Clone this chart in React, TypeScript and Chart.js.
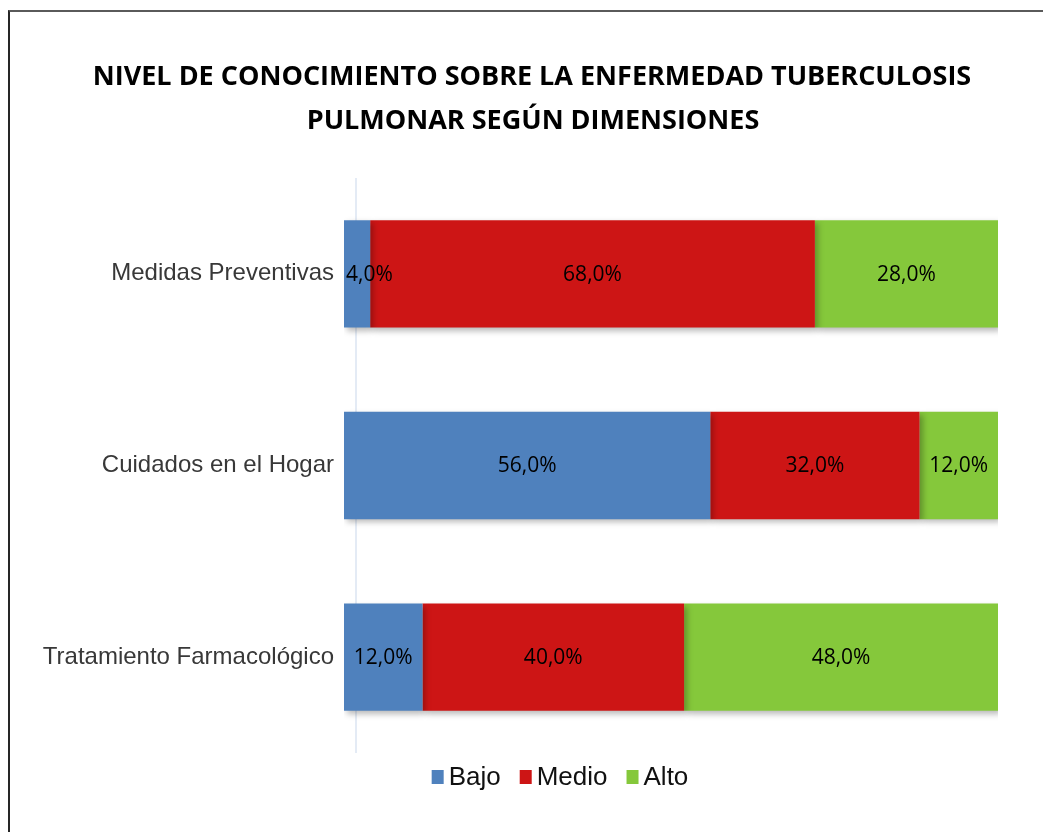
import React, { useEffect, useRef } from "react";
import { Chart, registerables } from "chart.js";

Chart.register(...registerables);

const titleLines = [
  "NIVEL DE CONOCIMIENTO SOBRE LA ENFERMEDAD TUBERCULOSIS",
  "PULMONAR SEGÚN DIMENSIONES",
];
const categories = ["Medidas Preventivas", "Cuidados en el Hogar", "Tratamiento Farmacológico"];
const seriesNames = ["Bajo", "Medio", "Alto"];
const bajo = [4.0, 56.0, 12.0];
const medio = [68.0, 32.0, 40.0];
const alto = [28.0, 12.0, 48.0];
const seriesColors = ["#4f81bd", "#cd1515", "#85c83b"];

const fmt = (v: number) => v.toFixed(1).replace(".", ",") + "%";

const shadowPlugin = {
  id: "barShadow",
  beforeDatasetsDraw(chart: any) {
    const ctx = chart.ctx;
    ctx.save();
    ctx.shadowColor = "rgba(0,0,0,0.28)";
    ctx.shadowBlur = 6;
    ctx.shadowOffsetX = 3;
    ctx.shadowOffsetY = 3;
  },
  afterDatasetsDraw(chart: any) {
    chart.ctx.restore();
  },
};

const axisLinePlugin = {
  id: "axisLine",
  beforeDatasetsDraw(chart: any) {
    const { ctx, chartArea } = chart;
    ctx.save();
    ctx.strokeStyle = "#e4ebf5";
    ctx.lineWidth = 2;
    ctx.beginPath();
    ctx.moveTo(chartArea.left + 12, chartArea.top);
    ctx.lineTo(chartArea.left + 12, chartArea.bottom);
    ctx.stroke();
    ctx.restore();
  },
};

const labelPlugin = {
  id: "valueLabels",
  afterDatasetsDraw(chart: any) {
    const ctx = chart.ctx;
    ctx.save();
    ctx.font = "21px 'Open Sans'";
    ctx.fillStyle = "#000000";
    ctx.textBaseline = "middle";
    ctx.textAlign = "left";
    chart.data.datasets.forEach((ds: any, di: number) => {
      const meta = chart.getDatasetMeta(di);
      meta.data.forEach((el: any, i: number) => {
        const v = ds.data[i] as number;
        const text = fmt(v);
        const w = ctx.measureText(text).width;
        const left = Math.min(el.x, el.base);
        const right = Math.max(el.x, el.base);
        let tx = (left + right) / 2 - w / 2;
        if (tx < left + 2) tx = left + 2;
        ctx.fillText(text, tx, el.y + 1);
      });
    });
    ctx.restore();
  },
};

const titleLegendPlugin = {
  id: "titleLegend",
  afterDraw(chart: any) {
    const ctx = chart.ctx;
    ctx.save();
    ctx.font = "bold 27px 'Open Sans'";
    ctx.fillStyle = "#000000";
    ctx.textAlign = "center";
    ctx.textBaseline = "alphabetic";
    ctx.fillText(titleLines[0], 532, 85);
    ctx.fillText(titleLines[1], 533, 129);
    ctx.font = "26px 'Liberation Sans', Arial, sans-serif";
    ctx.textAlign = "left";
    ctx.textBaseline = "middle";
    const boxW = 12;
    const boxH = 14;
    const gapText = 5;
    const gapItem = 19;
    const widths = chart.data.datasets.map((ds: any) => boxW + gapText + ctx.measureText(ds.label).width);
    const total = widths.reduce((a: number, b: number) => a + b, 0) + gapItem * (widths.length - 1);
    let x = 560 - total / 2;
    const cy = 777;
    chart.data.datasets.forEach((ds: any, i: number) => {
      ctx.fillStyle = ds.backgroundColor;
      ctx.fillRect(x, cy - boxH / 2, boxW, boxH);
      ctx.fillStyle = "#111111";
      ctx.fillText(ds.label, x + boxW + gapText, cy + 1);
      x += widths[i] + gapItem;
    });
    ctx.restore();
  },
};

export default function App() {
  const canvasRef = useRef<HTMLCanvasElement | null>(null);

  useEffect(() => {
    if (!canvasRef.current) return;
    const seriesData = [bajo, medio, alto];
    const chart = new Chart(canvasRef.current, {
      type: "bar",
      data: {
        labels: categories,
        datasets: seriesNames.map((name, i) => ({
          label: name,
          data: seriesData[i],
          backgroundColor: seriesColors[i],
          borderWidth: 0,
          categoryPercentage: 1,
          barPercentage: 0.56,
        })),
      },
      options: {
        indexAxis: "y",
        animation: false,
        responsive: true,
        maintainAspectRatio: false,
        layout: { padding: { left: 0, right: 45, top: 178, bottom: 79 } },
        scales: {
          x: {
            stacked: true,
            display: false,
            min: 0,
            max: 100,
          },
          y: {
            stacked: true,
            grid: { display: false, drawTicks: false },
            border: { display: false },
            ticks: {
              padding: 10,
              color: "#383838",
              font: { family: "'Liberation Sans', Arial, sans-serif", size: 24 },
            },
            afterFit(scale: any) {
              scale.width = 344;
            },
          },
        },
        plugins: {
          title: { display: false },
          legend: { display: false },
          tooltip: { enabled: false },
        },
      },
      plugins: [axisLinePlugin, shadowPlugin, labelPlugin, titleLegendPlugin],
    } as any);
    return () => chart.destroy();
  }, []);

  return (
    <div style={{ position: "absolute", left: 0, top: 0, width: 1043, height: 832, background: "#ffffff" }}>
      <div
        style={{
          position: "absolute",
          left: 8,
          top: 10,
          right: 0,
          bottom: 0,
          borderLeft: "2px solid #262626",
          borderTop: "2px solid #5a5a5a",
        }}
      />
      <canvas ref={canvasRef} style={{ position: "absolute", left: 0, top: 0, width: 1043, height: 832 }} />
    </div>
  );
}
